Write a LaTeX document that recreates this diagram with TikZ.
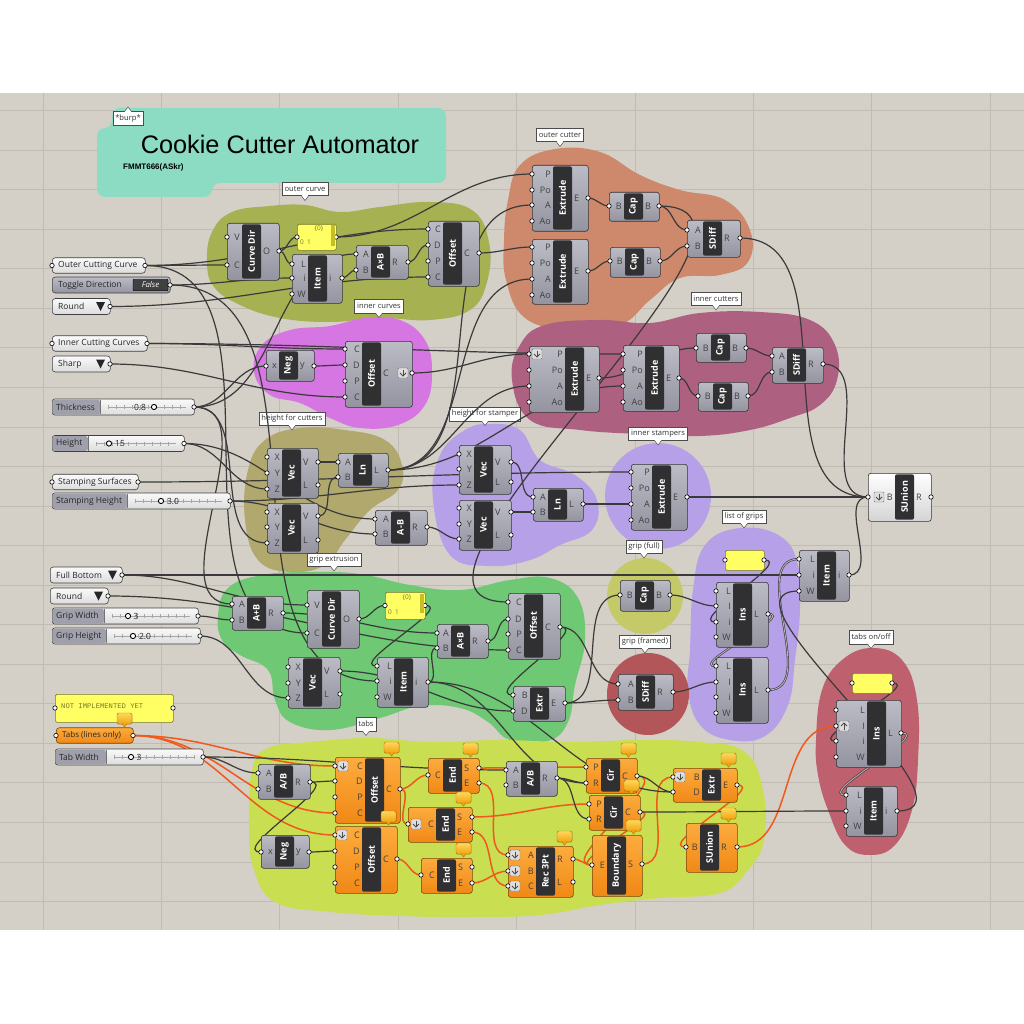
\documentclass[tikz,border=0pt]{standalone}
\usepackage{fontspec}
\setmainfont{Open Sans}
\newfontfamily\titlefont{Liberation Sans}
\newfontfamily\monofont{Liberation Mono}
\usetikzlibrary{calc}
\pgfdeclarelayer{bg}
\pgfdeclarelayer{wires}
\pgfsetlayers{bg,wires,main}
\definecolor{canvas}{RGB}{212,208,200}
\definecolor{gridc}{RGB}{192,188,180}
\definecolor{cteal}{RGB}{140,220,196}
\definecolor{colive}{RGB}{166,177,82}
\definecolor{cbrown}{RGB}{206,136,108}
\definecolor{cmag}{RGB}{214,118,226}
\definecolor{cplum}{RGB}{174,96,128}
\definecolor{ckhaki}{RGB}{176,168,108}
\definecolor{clav}{RGB}{182,160,232}
\definecolor{cyg}{RGB}{196,202,104}
\definecolor{cdred}{RGB}{178,86,90}
\definecolor{cgreen}{RGB}{110,200,116}
\definecolor{ctabs}{RGB}{202,222,82}
\definecolor{crose}{RGB}{190,96,110}
\definecolor{gtop}{RGB}{188,188,198}
\definecolor{gbot}{RGB}{148,148,160}
\definecolor{otop}{RGB}{252,172,62}
\definecolor{obot}{RGB}{240,136,22}
\definecolor{obord}{RGB}{120,70,10}
\definecolor{wbot}{RGB}{212,212,212}
\definecolor{barc}{RGB}{48,48,50}
\definecolor{wirec}{RGB}{58,58,58}
\definecolor{wireo}{RGB}{240,88,28}
\definecolor{ptop}{RGB}{250,250,250}
\definecolor{pbot}{RGB}{220,220,220}
\definecolor{slab}{RGB}{160,160,172}
\definecolor{yel}{RGB}{255,255,100}
\definecolor{yeld}{RGB}{120,120,40}
\definecolor{scrollc}{RGB}{200,190,40}
\definecolor{btop}{RGB}{255,215,90}
\definecolor{bbot}{RGB}{240,165,20}
\definecolor{bbord}{RGB}{190,120,0}
\definecolor{iconf}{RGB}{222,222,222}

\newcommand{\ghcomp}[9]{%
  \node[curcomp, anchor=north west, minimum width={(#4-#2)*1pt}, minimum height={(#5-#3)*1pt}] (#1) at (#2,#3) {};%
  \fill[barc, rounded corners=2pt] (#6,#3+1.3) rectangle (#6+19,#5-1.3);%
  \node[bartext, rotate=90] (#1-t) at ({#6+9.5},{(#3+#5)/2}) {#7};%
  \foreach \lb/\yy [count=\k] in {#8}{%
    \coordinate (#1-i\k) at (#2,\yy);%
    \node[plbl, anchor=east] (#1-il\k) at ({#6-2},\yy) {\lb};%
    \filldraw[port] (#2,\yy) circle[radius=2.2pt];}%
  \foreach \lb/\yy [count=\k] in {#9}{%
    \coordinate (#1-o\k) at (#4,\yy);%
    \node[plbl, anchor=west] (#1-ol\k) at ({#6+21},\yy) {\lb};%
    \filldraw[port] (#4,\yy) circle[radius=2.2pt];}%
}
\newcommand{\ghparam}[5]{%
  \node[parambox, anchor=west, minimum width={(#3-#2)*1pt}, minimum height=15.5pt] (#1) at (#2,#4) {};%
  \node[ptext, anchor=west] (#1-t) at (#2+6,#4) {#5};%
  \coordinate (#1-i1) at (#2,#4);\coordinate (#1-o1) at (#3,#4);%
  \filldraw[port] (#2,#4) circle[radius=2.2pt];\filldraw[port] (#3,#4) circle[radius=2.2pt];%
}
\newcommand{\ghdrop}[5]{%
  \node[parambox, anchor=west, minimum width={(#3-#2)*1pt}, minimum height=16pt] (#1) at (#2,#4) {};%
  \node[ptext, anchor=west] (#1-t) at (#2+6,#4) {#5};%
  \fill[black!85] (#3-14,#4-4.5) -- (#3-5,#4-4.5) -- (#3-9.5,#4+4.5) -- cycle;%
  \coordinate (#1-o1) at (#3,#4);%
  \filldraw[port] (#3,#4) circle[radius=2.2pt];%
}
\newcommand{\ghslider}[9]{%
  \node[sliderbox, anchor=west, minimum width={(#3-#2)*1pt}, minimum height=16pt] (#1) at (#2,#4) {};%
  \fill[slab, rounded corners=2.5pt] (#2+0.5,#4-7.4) rectangle (#5,#4+7.4);%
  \draw[black!55, line width=0.4pt] (#5,#4-7.4) -- (#5,#4+7.4);%
  \node[ptext, anchor=west] (#1-t) at (#2+4,#4) {#6};%
  \draw[black!35, line width=0.5pt] (#5+8,#4) -- (#3-8,#4);%
  \draw[black!35, line width=4pt, dash pattern=on 0.5pt off 7.5pt] (#5+8,#4) -- (#3-8,#4);%
  \filldraw[fill=white, draw=black, line width=0.9pt] (#7,#4) circle[radius=2.6pt];%
  \node[ptext, anchor=center] (#1-v) at (#8,#4) {#9};%
  \coordinate (#1-o1) at (#3,#4);%
  \filldraw[port] (#3,#4) circle[radius=2.2pt];%
}
\newcommand{\ghpanel}[5]{%
  \node[panelbox, anchor=north west, minimum width={(#4-#2)*1pt}, minimum height={(#5-#3)*1pt}] (#1) at (#2,#3) {};%
  \coordinate (#1-i1) at (#2,{(#3+#5)/2});\coordinate (#1-o1) at (#4,{(#3+#5)/2});%
  \filldraw[port] (#2,{(#3+#5)/2}) circle[radius=2.2pt];\filldraw[port] (#4,{(#3+#5)/2}) circle[radius=2.2pt];%
}
\newcommand{\ghballoon}[2]{%
  \filldraw[top color=btop, bottom color=bbot, draw=bbord, line width=0.4pt, rounded corners=1.5pt] (#1-16,#2-15) rectangle (#1-1,#2-4);%
  \filldraw[fill=bbot, draw=bbord, line width=0.4pt] (#1-11,#2-4.2) -- (#1-8.5,#2-0.8) -- (#1-6,#2-4.2);%
}
\newcommand{\ghicondown}[2]{%
  \filldraw[fill=iconf, draw=black!55, line width=0.4pt, rounded corners=1pt] (#1-5,#2-5) rectangle (#1+5,#2+5);%
  \draw[black!70, line width=0.8pt] (#1,#2-3.5) -- (#1,#2+3);%
  \draw[black!70, line width=0.8pt] (#1-3,#2) -- (#1,#2+3) -- (#1+3,#2);%
}
\newcommand{\ghiconup}[2]{%
  \filldraw[fill=iconf, draw=black!55, line width=0.4pt, rounded corners=1pt] (#1-5,#2-5) rectangle (#1+5,#2+5);%
  \draw[black!70, line width=0.8pt] (#1,#2+3.5) -- (#1,#2-3);%
  \draw[black!70, line width=0.8pt] (#1-3,#2) -- (#1,#2-3) -- (#1+3,#2);%
}
\newcommand{\glabel}[4]{%
  \node[glbl] (#1) at (#2,#3) {#4};%
  \filldraw[fill=white, draw=black!70, line width=0.5pt] ($(#1.south)+(-3.5,0)$) -- ($(#1.south)+(0,4.5)$) -- ($(#1.south)+(3.5,0)$);%
  \fill[white] ($(#1.south)+(-3,-0.7)$) rectangle ($(#1.south)+(3,0.2)$);%
}
\newcommand{\ghwire}[3][wdark]{\draw[#1] (#2) to[out=0,in=180] (#3);}

\begin{document}
\begin{tikzpicture}[x=1pt,y=-1pt,
  wdark/.style={draw=wirec, line width=1.2pt},
  worange/.style={draw=wireo, line width=1.5pt},
  wlist/.style={draw=wirec, line width=0.6pt, double=gray!60, double distance=0.9pt},
  port/.style={fill=white, draw=black, line width=0.6pt},
  compgrey/.style={draw=black!80, line width=0.6pt, rounded corners=2.5pt, top color=gtop, bottom color=gbot, inner sep=0pt},
  comporange/.style={draw=obord, line width=0.6pt, rounded corners=2.5pt, top color=otop, bottom color=obot, inner sep=0pt},
  compwhite/.style={draw=black!80, line width=0.6pt, rounded corners=2.5pt, top color=white, bottom color=wbot, inner sep=0pt},
  curcomp/.style={compgrey},
  bartext/.style={text=white, font=\bfseries\fontsize{9}{10}\selectfont, inner sep=0pt},
  plbl/.style={text=black!75, font=\fontsize{9}{10}\selectfont, inner sep=0pt},
  ptext/.style={text=black!85, font=\fontsize{8.5}{9.5}\selectfont, inner sep=0pt},
  parambox/.style={draw=black!75, line width=0.6pt, rounded corners=3pt, top color=ptop, bottom color=pbot, inner sep=0pt},
  sliderbox/.style={draw=black!75, line width=0.6pt, rounded corners=2.5pt, top color=ptop, bottom color=pbot, inner sep=0pt},
  panelbox/.style={draw=yeld, line width=0.6pt, rounded corners=1.5pt, fill=yel, inner sep=0pt},
  pantext/.style={text=yeld, font=\fontsize{6.5}{7}\selectfont, inner sep=0pt},
  glbl/.style={draw=black!70, fill=white, line width=0.5pt, inner xsep=2.5pt, inner ysep=0pt, minimum height=13.5pt, font=\fontsize{7.6}{8.5}\selectfont, text=black!80},
]
\useasboundingbox (0,0) rectangle (1024,1024);

% ---------------- background, grid, groups ----------------
\begin{pgfonlayer}{bg}
\fill[white] (0,0) rectangle (1024,1024);
\fill[canvas] (0,93) rectangle (1024,930);
\foreach \gx in {43,161.4,279.8,398.2,516.6,635,753.4,871.8,990.2}
  \draw[gridc, line width=0.8pt] (\gx,93) -- (\gx,930);
\foreach \gk in {0,...,20}
  \draw[gridc, line width=0.8pt] (0,{110.5+39.55*\gk}) -- (1024,{110.5+39.55*\gk});

% title group
\fill[cteal, rounded corners=8pt] (112,108) -- (446,108) -- (446,183) -- (212,183) -- (212,197) -- (97,197) -- (97,128) -- (112,128) -- cycle;
% outer curve
\fill[colive] plot[smooth cycle, tension=0.7] coordinates {(207,262) (212,232) (232,212) (270,206) (305,205) (340,212) (380,207) (430,202) (472,210) (489,242) (487,282) (470,310) (430,320) (380,318) (330,322) (280,318) (240,305) (214,287)};
% outer cutter
\fill[cbrown] plot[smooth cycle, tension=0.7] coordinates {(508,200) (520,165) (555,149) (600,152) (640,175) (680,190) (725,200) (750,230) (748,262) (720,275) (680,278) (650,300) (620,325) (570,330) (525,318) (506,280) (504,240)};
% inner curves
\fill[cmag] plot[smooth cycle, tension=0.7] coordinates {(254,372) (262,345) (290,330) (330,326) (365,318) (400,320) (425,340) (432,372) (425,405) (398,425) (360,428) (330,418) (300,403) (270,395)};
% inner cutters
\fill[cplum] plot[smooth cycle, tension=0.7] coordinates {(512,380) (520,345) (545,325) (600,320) (650,323) (700,313) (760,312) (810,320) (835,345) (837,380) (820,405) (790,418) (750,430) (700,436) (640,434) (580,430) (530,420)};
% height for cutters
\fill[ckhaki] plot[smooth cycle, tension=0.7] coordinates {(245,520) (248,470) (265,440) (300,428) (345,430) (385,440) (402,465) (398,490) (370,510) (345,540) (325,565) (290,572) (258,560)};
% height for stamper
\fill[clav] plot[smooth cycle, tension=0.7] coordinates {(433,500) (440,455) (465,430) (490,424) (520,430) (540,460) (575,475) (597,500) (592,530) (560,545) (530,560) (490,566) (450,555)};
% inner stampers
\fill[clav] (658,496) ellipse[x radius=53pt, y radius=53pt];
% list of grips
\fill[clav] plot[smooth cycle, tension=0.7] coordinates {(690,650) (693,590) (705,545) (740,528) (780,536) (798,565) (800,610) (795,660) (788,705) (765,736) (730,740) (700,725) (688,690)};
% grip extrusion
\fill[cgreen] plot[smooth cycle, tension=0.7] coordinates {(218,615) (228,588) (262,575) (310,572) (360,574) (410,585) (460,590) (510,580) (550,578) (578,598) (585,640) (575,685) (568,722) (548,741) (510,740) (488,722) (460,708) (420,706) (380,718) (330,730) (290,722) (275,700) (268,670) (240,655) (222,640)};
% grip full / framed
\fill[cyg] (645,596) circle[radius=38pt];
\fill[cdred] (648,694) circle[radius=41pt];
% tabs
\fill[ctabs] plot[smooth cycle, tension=0.7] coordinates {(249,830) (252,770) (268,748) (310,742) (370,738) (430,742) (500,740) (570,742) (640,740) (700,742) (745,752) (763,790) (764,840) (748,870) (720,893) (660,898) (600,905) (540,915) (470,917) (400,916) (330,912) (275,902) (254,870)};
% tabs on/off
\fill[crose] plot[smooth cycle, tension=0.7] coordinates {(816,740) (822,690) (842,660) (872,648) (902,660) (917,700) (918,760) (912,810) (895,845) (870,855) (845,845) (828,810) (818,775)};

% group labels
\node[glbl] (gl-burp) at (128,118.5) {*burp*};
\filldraw[fill=white, draw=black!70, line width=0.5pt] ($(gl-burp.north)+(-3.5,0)$) -- ($(gl-burp.north)+(0,-4.5)$) -- ($(gl-burp.north)+(3.5,0)$);
\fill[white] ($(gl-burp.north)+(-3,0.7)$) rectangle ($(gl-burp.north)+(3,-0.2)$);
\glabel{gl-oc}{305}{189}{outer curve}
\glabel{gl-ocut}{560}{135}{outer cutter}
\glabel{gl-ic}{379}{306}{inner curves}
\glabel{gl-icut}{716}{298.5}{inner cutters}
\glabel{gl-hc}{292}{418.5}{height for cutters}
\glabel{gl-hs}{485}{414}{height for stamper}
\glabel{gl-is}{658}{433.5}{inner stampers}
\glabel{gl-lg}{744}{516.5}{list of grips}
\glabel{gl-gf}{644}{546.5}{grip (full)}
\glabel{gl-gfr}{645}{641.5}{grip (framed)}
\glabel{gl-ge}{334}{559.5}{grip extrusion}
\glabel{gl-tabs}{366}{724}{tabs}
\glabel{gl-tof}{871}{637}{tabs on/off}
\end{pgfonlayer}

% ---------------- title ----------------
\node[font=\titlefont\fontsize{25.3}{28}\selectfont, inner sep=0pt] (title) at (280,144) {Cookie Cutter Automator};
\node[font=\titlefont\bfseries\fontsize{8}{9}\selectfont, anchor=west, inner sep=0pt] (author) at (123,167) {FMMT666(ASkr)};

% ---------------- parameters ----------------
\ghparam{occ}{52}{145}{265.5}{Outer Cutting Curve}
\node[draw=black!75, line width=0.6pt, rounded corners=3pt, top color=gtop, bottom color=gbot, anchor=west, minimum width=118pt, minimum height=16pt, inner sep=0pt] (tog) at (52,285) {};
\node[ptext, anchor=west] (tog-t) at (58,285) {Toggle Direction};
\node[fill=black!75, draw=black, rounded corners=1pt, minimum width=35pt, minimum height=11.5pt, inner sep=0pt, text=white, font=\itshape\fontsize{7.8}{8}\selectfont] (tog-v) at (150.5,285) {False};
\coordinate (tog-o1) at (170,285);
\filldraw[port] (170,285) circle[radius=2.2pt];
\ghdrop{rnd1}{52}{110}{306.5}{Round}
\ghparam{icc}{52}{147}{343.5}{Inner Cutting Curves}
\ghdrop{shp}{52}{110}{364}{Sharp}
\ghslider{thk}{52}{194}{407}{100}{Thickness}{154}{140}{0.8}
\ghslider{hgt}{52}{184}{443.5}{88}{Height}{109}{120}{15}
\ghparam{ss}{52}{138}{482}{Stamping Surfaces}
\ghslider{sth}{52}{230}{501}{127}{Stamping Height}{161}{173}{3.0}
\ghdrop{fb}{50}{122}{575}{Full Bottom}
\ghdrop{rnd2}{50}{108}{596}{Round}
\ghslider{gw}{52}{198}{616}{104}{Grip Width}{128}{136}{3}
\ghslider{gh}{52}{200}{636}{106}{Grip Height}{133}{145}{2.0}
\ghpanel{niy}{55}{694}{173}{722}
\node[text=yeld, font=\monofont\fontsize{7.2}{7.5}\selectfont, anchor=west, inner sep=0pt] (niy-t) at (61,706) {NOT IMPLEMENTED YET};
\node[draw=obord, line width=0.6pt, rounded corners=3pt, top color=otop, bottom color=obot, anchor=west, minimum width=77pt, minimum height=15.5pt, inner sep=0pt] (tlo) at (56,735.5) {};
\node[ptext, anchor=west, font=\fontsize{8}{9}\selectfont] (tlo-t) at (62,735.5) {Tabs (lines only)};
\coordinate (tlo-o1) at (133,735.5);
\filldraw[port] (56,735.5) circle[radius=2.2pt];
\filldraw[port] (133,735.5) circle[radius=2.2pt];
\ghballoon{133}{728}
\ghslider{tw}{55}{203}{757}{106}{Tab Width}{131}{139}{3}

% ---------------- outer curve / outer cutter ----------------
\ghcomp{cd1}{227}{223}{279}{280}{242}{Curve Dir}{V/237,C/265}{O/251}
\ghpanel{pn1}{297}{224}{336}{250}
\node[pantext] (pn1-a) at (319,229) {\{0\}};
\node[pantext, anchor=west] (pn1-b) at (300,242) {0\,\,\,1};
\fill[scrollc] (330.5,225.5) rectangle (334.5,246);
\ghcomp{it1}{292}{254}{342}{303}{308}{Item}{L/264,i/278,W/294}{i/278}
\ghcomp{ab1}{356}{245}{408}{279}{371}{A×B}{A/254,B/270}{R/262}
\ghcomp{of1}{428}{221}{479}{286}{443}{Offset}{C/229,D/245,P/261,C/277}{C/253}
\ghcomp{eo1}{532}{165}{588}{231}{553}{Extrude}{P/174,Po/190,A/205,Ao/221}{E/198}
\ghcomp{eo2}{532}{239}{588}{304}{553}{Extrude}{P/247,Po/263,A/279,Ao/295}{E/271}
\ghcomp{co1}{609}{192}{659}{221}{624}{Cap}{B/206}{B/206}
\ghcomp{co2}{610}{247}{660}{277}{625}{Cap}{B/261}{B/261}
\ghcomp{sdo}{687}{220}{740}{257}{703}{SDiff}{A/230,B/246}{R/238}

% ---------------- inner curves / cutters ----------------
\ghcomp{neg}{266}{350}{314}{381}{279}{Neg}{x/366}{y/366}
\ghcomp{ofi}{345}{341}{412}{407}{362}{Offset}{C/349,D/365,P/381,C/397}{C/373}
\ghicondown{403}{373}
\ghcomp{ei1}{529}{346}{599}{412}{565}{Extrude}{P/354,Po/370,A/386,Ao/402}{E/378}
\ghicondown{537}{354}
\ghcomp{ei2}{623}{345}{679}{411}{645}{Extrude}{P/354,Po/370,A/386,Ao/402}{E/378}
\ghcomp{ci1}{696}{333}{746}{362}{711}{Cap}{B/348}{B/348}
\ghcomp{ci2}{698}{382}{748}{411}{713}{Cap}{B/396}{B/396}
\ghcomp{sdi}{772}{347}{823}{383}{787}{SDiff}{A/356,B/372}{R/364}

% ---------------- heights ----------------
\ghcomp{v1}{267}{448}{318}{498}{282}{Vec}{X/457,Y/473,Z/489}{V/462,L/485}
\ghcomp{v2}{267}{503}{318}{553}{282}{Vec}{X/512,Y/527,Z/543}{V/516,L/540}
\ghcomp{ln1}{338}{453}{388}{487}{353}{Ln}{A/462,B/477}{L/470}
\ghcomp{sub}{375}{510}{427}{545}{391}{A-B}{A/519,B/534}{R/527}
\ghcomp{v3}{459}{445}{511}{494}{474}{Vec}{X/454,Y/469,Z/485}{V/462,L/482}
\ghcomp{v4}{459}{500}{511}{550}{474}{Vec}{X/508,Y/524,Z/539}{V/512,L/535}
\ghcomp{ln2}{533}{488}{583}{521}{548}{Ln}{A/497,B/512}{L/504}
\ghcomp{est}{631}{464}{687}{530}{652}{Extrude}{P/472,Po/488,A/504,Ao/520}{E/497}
\tikzset{curcomp/.style={compwhite}}
\ghcomp{su}{868}{473}{931}{521}{895}{SUnion}{B/497}{R/497}
\ghicondown{879}{497}
\tikzset{curcomp/.style={compgrey}}

% ---------------- grip ----------------
\ghcomp{apb}{232}{596}{283}{630}{247}{A+B}{A/604,B/620}{R/613}
\ghcomp{cd2}{307}{590}{359}{648}{322}{Curve Dir}{V/605,C/633}{O/619}
\ghcomp{v5}{288}{657}{340}{708}{303}{Vec}{X/667,Y/683,Z/698}{V/671,L/694}
\ghpanel{pn2}{385}{592}{425}{619}
\node[pantext] (pn2-a) at (407,598) {\{0\}};
\node[pantext, anchor=west] (pn2-b) at (388,612) {0\,\,\,1};
\fill[scrollc] (419.5,593.5) rectangle (423.5,613);
\ghcomp{ab2}{437}{624}{488}{658}{451}{A×B}{A/633,B/648}{R/641}
\ghcomp{it2}{377}{657}{428}{707}{394}{Item}{L/666,i/681,W/697}{i/682}
\ghcomp{of3}{508}{593}{560}{659}{524}{Offset}{C/602,D/619,P/634,C/650}{C/627}
\ghcomp{exg}{513}{686}{565}{721}{530}{Extr}{B/695,D/711}{E/703}
\ghcomp{cpg}{620}{580}{670}{611}{635}{Cap}{B/595}{B/595}
\ghcomp{sdg}{618}{674}{673}{710}{636}{SDiff}{A/684,B/700}{R/692}
\ghpanel{pn3}{725}{550}{764}{570}
\ghcomp{ins1}{716}{582}{768}{647}{733}{Ins}{L/591,I/606,i/622,W/637}{L/614}
\ghcomp{ins2}{716}{657}{768}{723}{733}{Ins}{L/666,I/682,i/697,W/713}{L/690}
\ghcomp{it3}{799}{550}{849}{601}{817}{Item}{L/559,i/575,W/591}{i/575}
\ghpanel{pn4}{852}{673}{892}{693}
\ghcomp{ins3}{836}{700}{901}{767}{867}{Ins}{L/710,I/726,i/741,W/757}{L/733}
\ghiconup{844}{726}
\ghcomp{it4}{846}{786}{897}{836}{864}{Item}{L/795,i/811,W/826}{i/811}

% ---------------- tabs ----------------
\ghcomp{abt1}{258}{764}{310}{799}{274}{A/B}{A/773,B/789}{R/782}
\ghcomp{negt}{261}{835}{309}{868}{275}{Neg}{x/852}{y/852}
\ghcomp{abt2}{506}{761}{557}{796}{521}{A/B}{A/770,B/785}{R/778}
\tikzset{curcomp/.style={comporange}}
\ghcomp{oft1}{335}{757}{400}{823}{365}{Offset}{C/766,D/781,P/797,C/813}{C/789}
\ghicondown{343}{766}
\ghcomp{oft2}{335}{826}{397}{893}{362}{Offset}{C/835,D/851,P/867,C/883}{C/859}
\ghicondown{342}{835}
\ghcomp{end1}{428}{758}{479}{793}{443}{End}{C/775}{S/768,E/783}
\ghcomp{end2}{408}{807}{472}{842}{436}{End}{C/824}{S/817,E/832}
\ghicondown{416}{824}
\ghcomp{end3}{421}{858}{472}{893}{437}{End}{C/875}{S/867,E/883}
\ghcomp{rec}{508}{846}{573}{897}{536}{Rec 3Pt}{A/855,B/871,C/886}{R/859,L/882}
\ghicondown{515}{855}\ghicondown{515}{871}\ghicondown{515}{886}
\ghcomp{cir1}{586}{758}{637}{793}{601}{Cir}{P/767,R/783}{C/776}
\ghcomp{cir2}{589}{795}{640}{830}{604}{Cir}{P/804,R/819}{C/812}
\ghcomp{bnd}{592}{835}{642}{896}{607}{Boundary}{E/865}{S/864}
\ghcomp{ext}{673}{768}{737}{802}{702}{Extr}{B/777,D/792}{E/785}
\ghicondown{680}{777}
\ghcomp{sut}{686}{823}{737}{872}{700}{SUnion}{B/847}{R/847}
\tikzset{curcomp/.style={compgrey}}
\ghballoon{400}{757}\ghballoon{397}{826}\ghballoon{479}{758}\ghballoon{472}{807}
\ghballoon{472}{858}\ghballoon{573}{846}\ghballoon{637}{758}\ghballoon{640}{795}
\ghballoon{642}{835}\ghballoon{737}{768}\ghballoon{737}{823}

% ---------------- wires ----------------
\begin{pgfonlayer}{wires}
\ghwire{occ-o1}{cd1-i2}
\ghwire{occ-o1}{of1-i1}
\ghwire{cd1-o1}{pn1-i1}
\ghwire{cd1-o1}{it1-i1}
\ghwire{tog-o1}{it1-i2}
\ghwire{rnd1-o1}{of1-i4}
\ghwire{pn1-o1}{eo1-i1}
\ghwire{it1-o1}{ab1-i2}
\ghwire{thk-o1}{ab1-i1}
\ghwire{ab1-o1}{of1-i2}
\ghwire{of1-o1}{eo2-i1}
\ghwire{ln1-o1}{eo1-i3}
\ghwire{ln1-o1}{eo2-i3}
\ghwire{eo1-o1}{co1-i1}
\ghwire{eo2-o1}{co2-i1}
\ghwire{co1-o1}{sdo-i1}
\ghwire{co2-o1}{sdo-i2}
\ghwire{sdo-o1}{su-i1}
\ghwire{co1-o1}{of3-i1}
\ghwire{icc-o1}{ofi-i1}
\ghwire{icc-o1}{ei2-i1}
\ghwire{shp-o1}{ofi-i4}
\ghwire{thk-o1}{neg-i1}
\ghwire{neg-o1}{ofi-i2}
\ghwire{ofi-o1}{ei1-i1}
\ghwire{ln1-o1}{ei1-i3}
\ghwire{ln1-o1}{ei2-i3}
\ghwire{ei1-o1}{ci1-i1}
\ghwire{ei2-o1}{ci2-i1}
\ghwire{ci1-o1}{sdi-i1}
\ghwire{ci2-o1}{sdi-i2}
\ghwire{sdi-o1}{su-i1}
\ghwire{hgt-o1}{v1-i3}
\ghwire{thk-o1}{v2-i3}
\ghwire{v1-o1}{ln1-i1}
\ghwire{v2-o1}{ln1-i2}
\ghwire{hgt-o1}{sub-i1}
\ghwire{sth-o1}{sub-i2}
\ghwire{sub-o1}{v4-i3}
\ghwire{sth-o1}{v3-i3}
\ghwire{ss-o1}{est-i1}
\ghwire{v3-o1}{ln2-i1}
\ghwire{v4-o1}{ln2-i2}
\ghwire{ln2-o1}{est-i3}
\ghwire{est-o1}{su-i1}
\ghwire{fb-o1}{it3-i2}
\ghwire{fb-o1}{cd2-i1}
\ghwire{rnd2-o1}{of3-i4}
\ghwire{gw-o1}{apb-i2}
\ghwire{thk-o1}{apb-i1}
\ghwire{gh-o1}{v5-i3}
\ghwire{occ-o1}{cd2-i2}
\ghwire{apb-o1}{ab2-i1}
\ghwire{cd2-o1}{pn2-i1}
\ghwire{pn2-o1}{it2-i1}
\ghwire{tog-o1}{it2-i2}
\ghwire{it2-o1}{ab2-i2}
\ghwire{ab2-o1}{of3-i2}
\ghwire{of3-o1}{exg-i1}
\ghwire{v5-o1}{exg-i2}
\ghwire{exg-o1}{cpg-i1}
\ghwire{exg-o1}{sdg-i2}
\ghwire{of3-o1}{sdg-i1}
\ghwire{cpg-o1}{ins1-i2}
\ghwire{sdg-o1}{ins2-i2}
\ghwire{pn3-o1}{ins1-i3}
\ghwire[wlist]{ins1-o1}{ins2-i1}
\ghwire[wlist]{ins2-o1}{it3-i1}
\ghwire{it3-o1}{su-i1}
\ghwire{it4-o1}{it3-i3}
\ghwire{pn4-o1}{ins3-i3}
\ghwire[wlist]{ins3-o1}{it4-i1}
\ghwire[worange]{sut-o1}{ins3-i2}
\ghwire[worange]{tlo-o1}{oft1-i1}
\ghwire[worange]{tlo-o1}{oft1-i4}
\ghwire[worange]{tlo-o1}{oft2-i1}
\ghwire{tw-o1}{abt1-i1}
\ghwire{tw-o1}{abt2-i1}
\ghwire{abt1-o1}{oft1-i2}
\ghwire{abt1-o1}{negt-i1}
\ghwire{negt-o1}{oft2-i2}
\ghwire[worange]{oft1-o1}{end1-i1}
\ghwire[worange]{oft1-o1}{end2-i1}
\ghwire[worange]{oft2-o1}{end3-i1}
\ghwire[worange]{end1-o1}{cir1-i1}
\ghwire[worange]{end1-o2}{rec-i1}
\ghwire[worange]{end2-o1}{cir2-i1}
\ghwire[worange]{end2-o2}{rec-i3}
\ghwire[worange]{end3-o2}{rec-i2}
\ghwire{abt2-o1}{cir1-i2}
\ghwire{abt2-o1}{cir2-i2}
\ghwire[worange]{rec-o1}{bnd-i1}
\ghwire[worange]{cir1-o1}{bnd-i1}
\ghwire[worange]{cir2-o1}{bnd-i1}
\ghwire[worange]{bnd-o1}{ext-i1}
\ghwire{cir1-o1}{ext-i2}
\ghwire{cir2-o1}{it4-i2}
\ghwire[worange]{ext-o1}{sut-i1}
\ghwire{it2-o1}{cir1-i2}
\ghwire{it2-o1}{ext-i2}
\end{pgfonlayer}
\end{tikzpicture}
\end{document}
